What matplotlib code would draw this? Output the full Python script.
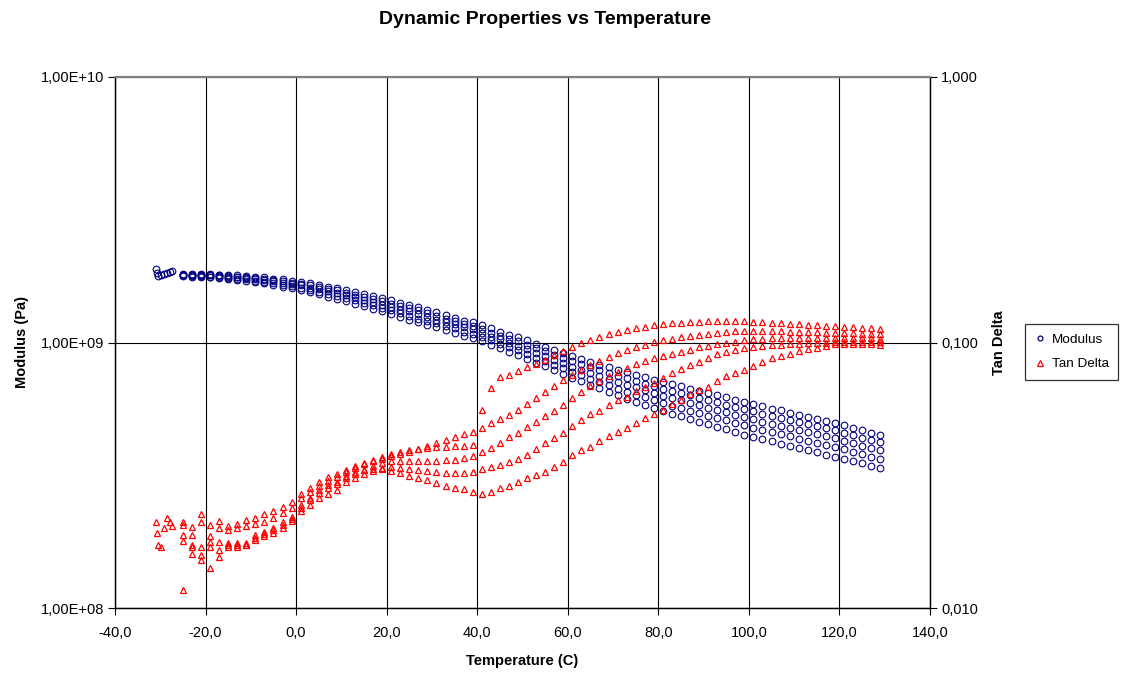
import matplotlib
matplotlib.use("Agg")
import matplotlib.pyplot as plt
import matplotlib.ticker as ticker
from matplotlib.lines import Line2D

plt.rcParams["font.family"] = ["Liberation Sans", "DejaVu Sans"]

# temperature steps (C), shared by the five frequency sweeps
temperature = [-25, -23, -21, -19, -17, -15, -13, -11, -9, -7, -5, -3, -1,
               1, 3, 5, 7, 9, 11, 13, 15, 17, 19, 21, 23, 25, 27, 29, 31, 33,
               35, 37, 39, 41, 43, 45, 47, 49, 51, 53, 55, 57, 59, 61, 63, 65,
               67, 69, 71, 73, 75, 77, 79, 81, 83, 85, 87, 89, 91, 93, 95, 97,
               99, 101, 103, 105, 107, 109, 111, 113, 115, 117, 119, 121, 123,
               125, 127, 129]

# a few points logged before the ramp settled
early_temperature = [-30.9, -30.7, -30.5, -29.8, -29.2, -28.5, -27.9, -27.4]
early_modulus_gpa = [1.89, 1.83, 1.78, 1.80, 1.81, 1.83, 1.84, 1.86]
early_tan_delta = [0.0210, 0.0192, 0.0172, 0.0169, 0.0200, 0.0219, 0.0211, 0.0204]

# storage modulus (GPa), one list per sweep
modulus_gpa_1 = [1.81, 1.81, 1.81, 1.81, 1.80, 1.80, 1.79, 1.78, 1.77, 1.76,
                 1.74, 1.73, 1.71, 1.69, 1.67, 1.65, 1.62, 1.60, 1.58, 1.55,
                 1.52, 1.50, 1.47, 1.44, 1.41, 1.39, 1.36, 1.33, 1.30, 1.27,
                 1.24, 1.21, 1.19, 1.16, 1.13, 1.10, 1.07, 1.05, 1.02, 0.990,
                 0.962, 0.936, 0.911, 0.887, 0.866, 0.845, 0.825, 0.806, 0.788, 0.771,
                 0.755, 0.739, 0.724, 0.710, 0.697, 0.684, 0.671, 0.658, 0.645, 0.633,
                 0.621, 0.609, 0.598, 0.587, 0.575, 0.564, 0.555, 0.544, 0.534, 0.525,
                 0.516, 0.507, 0.498, 0.489, 0.478, 0.467, 0.457, 0.449]
modulus_gpa_2 = [1.80, 1.80, 1.80, 1.80, 1.79, 1.78, 1.77, 1.76, 1.75, 1.74,
                 1.72, 1.70, 1.68, 1.66, 1.64, 1.62, 1.59, 1.57, 1.54, 1.51,
                 1.48, 1.46, 1.43, 1.40, 1.37, 1.35, 1.32, 1.29, 1.26, 1.23,
                 1.20, 1.17, 1.15, 1.12, 1.09, 1.06, 1.03, 1.01, 0.982, 0.953,
                 0.925, 0.899, 0.874, 0.850, 0.828, 0.807, 0.787, 0.767, 0.749, 0.732,
                 0.716, 0.700, 0.684, 0.671, 0.658, 0.645, 0.632, 0.620, 0.607, 0.595,
                 0.584, 0.572, 0.561, 0.551, 0.539, 0.529, 0.520, 0.510, 0.501, 0.492,
                 0.484, 0.475, 0.467, 0.458, 0.448, 0.438, 0.429, 0.421]
modulus_gpa_3 = [1.80, 1.79, 1.79, 1.79, 1.78, 1.77, 1.76, 1.75, 1.73, 1.72,
                 1.70, 1.68, 1.66, 1.64, 1.61, 1.59, 1.56, 1.53, 1.51, 1.48,
                 1.45, 1.42, 1.39, 1.36, 1.33, 1.31, 1.28, 1.25, 1.22, 1.19,
                 1.17, 1.14, 1.12, 1.09, 1.05, 1.03, 0.997, 0.973, 0.944, 0.915,
                 0.888, 0.862, 0.837, 0.812, 0.790, 0.769, 0.749, 0.728, 0.710, 0.693,
                 0.677, 0.660, 0.645, 0.631, 0.618, 0.606, 0.593, 0.581, 0.569, 0.558,
                 0.546, 0.535, 0.524, 0.514, 0.504, 0.494, 0.486, 0.477, 0.468, 0.459,
                 0.451, 0.443, 0.435, 0.427, 0.418, 0.409, 0.401, 0.393]
modulus_gpa_4 = [1.79, 1.78, 1.78, 1.77, 1.76, 1.75, 1.74, 1.73, 1.71, 1.69,
                 1.67, 1.65, 1.63, 1.61, 1.58, 1.55, 1.52, 1.50, 1.47, 1.44,
                 1.41, 1.38, 1.35, 1.32, 1.29, 1.26, 1.23, 1.20, 1.18, 1.15,
                 1.13, 1.10, 1.08, 1.05, 1.02, 0.988, 0.960, 0.935, 0.906, 0.878,
                 0.850, 0.824, 0.800, 0.775, 0.752, 0.731, 0.710, 0.689, 0.671, 0.653,
                 0.637, 0.621, 0.605, 0.592, 0.579, 0.566, 0.554, 0.543, 0.530, 0.520,
                 0.509, 0.498, 0.487, 0.478, 0.468, 0.459, 0.451, 0.443, 0.434, 0.426,
                 0.419, 0.410, 0.404, 0.396, 0.388, 0.380, 0.372, 0.365]
modulus_gpa_5 = [1.78, 1.77, 1.77, 1.76, 1.75, 1.73, 1.72, 1.71, 1.69, 1.67,
                 1.65, 1.62, 1.60, 1.58, 1.55, 1.52, 1.49, 1.46, 1.43, 1.40,
                 1.37, 1.34, 1.31, 1.28, 1.25, 1.22, 1.19, 1.16, 1.14, 1.11,
                 1.09, 1.06, 1.04, 1.01, 0.978, 0.950, 0.923, 0.896, 0.868, 0.840,
                 0.813, 0.787, 0.763, 0.737, 0.714, 0.693, 0.672, 0.650, 0.632, 0.614,
                 0.598, 0.581, 0.565, 0.552, 0.539, 0.527, 0.515, 0.504, 0.492, 0.482,
                 0.471, 0.461, 0.450, 0.441, 0.432, 0.424, 0.416, 0.409, 0.401, 0.393,
                 0.386, 0.378, 0.372, 0.365, 0.358, 0.351, 0.344, 0.337]

# tan delta, one list per sweep
tan_delta_1 = [0.0210, 0.0202, 0.0225, 0.0206, 0.0213, 0.0204, 0.0208, 0.0215, 0.0219, 0.0225,
               0.0231, 0.0241, 0.0251, 0.0269, 0.0284, 0.0299, 0.0312, 0.0321, 0.0332, 0.0343,
               0.0353, 0.0362, 0.0371, 0.0381, 0.0388, 0.0394, 0.0398, 0.0401, 0.0405, 0.0405,
               0.0408, 0.0408, 0.0412, 0.0558, 0.0675, 0.0742, 0.0755, 0.0782, 0.0810, 0.0831,
               0.0860, 0.0898, 0.0930, 0.0962, 0.0997, 0.1023, 0.1050, 0.1077, 0.1096, 0.1115,
               0.1135, 0.1145, 0.1165, 0.1175, 0.1185, 0.1185, 0.1195, 0.1195, 0.1205, 0.1205,
               0.1205, 0.1205, 0.1205, 0.1195, 0.1195, 0.1185, 0.1185, 0.1175, 0.1175, 0.1165,
               0.1165, 0.1155, 0.1155, 0.1145, 0.1145, 0.1135, 0.1135, 0.1125]
tan_delta_2 = [0.0206, 0.0189, 0.0210, 0.0186, 0.0200, 0.0197, 0.0200, 0.0204, 0.0208, 0.0211,
               0.0219, 0.0227, 0.0239, 0.0260, 0.0274, 0.0289, 0.0301, 0.0312, 0.0326, 0.0338,
               0.0350, 0.0359, 0.0365, 0.0375, 0.0381, 0.0388, 0.0398, 0.0408, 0.0419, 0.0430,
               0.0441, 0.0453, 0.0461, 0.0477, 0.0498, 0.0516, 0.0534, 0.0558, 0.0587, 0.0619,
               0.0652, 0.0687, 0.0723, 0.0755, 0.0789, 0.0824, 0.0853, 0.0883, 0.0914, 0.0938,
               0.0962, 0.0979, 0.1005, 0.1023, 0.1032, 0.1050, 0.1059, 0.1068, 0.1077, 0.1086,
               0.1096, 0.1105, 0.1105, 0.1105, 0.1105, 0.1105, 0.1105, 0.1096, 0.1096, 0.1096,
               0.1096, 0.1086, 0.1086, 0.1086, 0.1086, 0.1077, 0.1077, 0.1077]
tan_delta_3 = [0.0179, 0.0170, 0.0169, 0.0169, 0.0178, 0.0176, 0.0173, 0.0176, 0.0189, 0.0194,
               0.0200, 0.0211, 0.0221, 0.0239, 0.0256, 0.0272, 0.0284, 0.0294, 0.0310, 0.0321,
               0.0332, 0.0343, 0.0353, 0.0359, 0.0359, 0.0359, 0.0359, 0.0359, 0.0359, 0.0362,
               0.0362, 0.0368, 0.0375, 0.0388, 0.0401, 0.0419, 0.0441, 0.0457, 0.0482, 0.0503,
               0.0529, 0.0553, 0.0582, 0.0619, 0.0652, 0.0687, 0.0717, 0.0749, 0.0775, 0.0803,
               0.0831, 0.0853, 0.0875, 0.0890, 0.0906, 0.0922, 0.0938, 0.0962, 0.0971, 0.0988,
               0.0997, 0.1005, 0.1023, 0.1032, 0.1032, 0.1041, 0.1041, 0.1041, 0.1041, 0.1041,
               0.1041, 0.1041, 0.1041, 0.1041, 0.1041, 0.1041, 0.1041, 0.1032]
tan_delta_4 = [0.0189, 0.0160, 0.0159, 0.0142, 0.0156, 0.0169, 0.0170, 0.0172, 0.0181, 0.0186,
               0.0192, 0.0200, 0.0213, 0.0231, 0.0245, 0.0260, 0.0269, 0.0279, 0.0299, 0.0310,
               0.0321, 0.0329, 0.0338, 0.0340, 0.0338, 0.0335, 0.0332, 0.0329, 0.0326, 0.0323,
               0.0323, 0.0323, 0.0326, 0.0335, 0.0340, 0.0346, 0.0356, 0.0365, 0.0378, 0.0398,
               0.0419, 0.0437, 0.0457, 0.0486, 0.0511, 0.0539, 0.0553, 0.0582, 0.0608, 0.0624,
               0.0657, 0.0681, 0.0704, 0.0736, 0.0769, 0.0796, 0.0824, 0.0845, 0.0875, 0.0906,
               0.0922, 0.0938, 0.0954, 0.0962, 0.0971, 0.0979, 0.0979, 0.0988, 0.0988, 0.0997,
               0.0997, 0.0997, 0.1005, 0.1005, 0.1005, 0.1005, 0.1005, 0.1005]
tan_delta_5 = [0.0117, 0.0173, 0.0152, 0.0178, 0.0166, 0.0172, 0.0176, 0.0173, 0.0184, 0.0190,
               0.0197, 0.0206, 0.0217, 0.0245, 0.0260, 0.0279, 0.0291, 0.0299, 0.0315, 0.0326,
               0.0332, 0.0335, 0.0335, 0.0329, 0.0323, 0.0315, 0.0310, 0.0304, 0.0296, 0.0289,
               0.0284, 0.0281, 0.0274, 0.0269, 0.0274, 0.0284, 0.0289, 0.0299, 0.0310, 0.0318,
               0.0326, 0.0340, 0.0356, 0.0378, 0.0394, 0.0405, 0.0426, 0.0445, 0.0461, 0.0477,
               0.0498, 0.0520, 0.0539, 0.0558, 0.0587, 0.0608, 0.0641, 0.0663, 0.0681, 0.0717,
               0.0749, 0.0769, 0.0789, 0.0817, 0.0845, 0.0875, 0.0890, 0.0906, 0.0930, 0.0946,
               0.0954, 0.0971, 0.0988, 0.0988, 0.0988, 0.0988, 0.0988, 0.0979]

x_ticks = [-40, -20, 0, 20, 40, 60, 80, 100, 120, 140]
modulus_ticks = [1e8, 1e9, 1e10]
tan_ticks = [0.01, 0.1, 1.0]

MOD_COLOR = "#000080"
TAN_COLOR = "#ff0000"
FS = 10.5

mod_style = dict(linestyle="none", marker="o", markersize=4.8, markerfacecolor="none",
                 markeredgecolor=MOD_COLOR, markeredgewidth=0.8)
tan_style = dict(linestyle="none", marker="^", markersize=5.0, markerfacecolor="none",
                 markeredgecolor=TAN_COLOR, markeredgewidth=0.9)

fig = plt.figure(figsize=(11.22, 6.73), dpi=100)
ax = fig.add_axes([115 / 1122, 65 / 673, 815 / 1122, 531 / 673])
ax2 = ax.twinx()

ax.plot(early_temperature, [v * 1e9 for v in early_modulus_gpa], **mod_style)
for m in [modulus_gpa_1, modulus_gpa_2, modulus_gpa_3, modulus_gpa_4, modulus_gpa_5]:
    ax.plot(temperature, [v * 1e9 for v in m], **mod_style)

ax2.plot(early_temperature, early_tan_delta, **tan_style)
for t in [tan_delta_1, tan_delta_2, tan_delta_3, tan_delta_4, tan_delta_5]:
    ax2.plot(temperature, t, **tan_style)

ax.set_xlim(-40, 140)
ax.set_yscale("log")
ax.set_ylim(1e8, 1e10)
ax2.set_yscale("log")
ax2.set_ylim(0.01, 1.0)

ax.set_xticks(x_ticks)
ax.xaxis.set_major_formatter(ticker.FuncFormatter(lambda v, p: f"{v:.1f}".replace(".", ",")))
ax.yaxis.set_major_locator(ticker.FixedLocator(modulus_ticks))
ax.yaxis.set_minor_locator(ticker.NullLocator())
ax.yaxis.set_major_formatter(ticker.FuncFormatter(lambda v, p: f"{v:.2E}".replace(".", ",")))
ax2.yaxis.set_major_locator(ticker.FixedLocator(tan_ticks))
ax2.yaxis.set_minor_locator(ticker.NullLocator())
ax2.yaxis.set_major_formatter(ticker.FuncFormatter(lambda v, p: f"{v:.3f}".replace(".", ",")))

for a in [ax, ax2]:
    a.tick_params(direction="out", length=5, width=0.8, color="black",
                  labelsize=FS, pad=3)
    for side in ["left", "right", "bottom"]:
        a.spines[side].set_color("black")
        a.spines[side].set_linewidth(0.9)
    a.spines["top"].set_color("#808080")
    a.spines["top"].set_linewidth(1.5)
ax.tick_params(axis="x", pad=8)

ax.grid(True, which="major", color="black", linewidth=0.8)
ax.set_axisbelow(True)

ax.set_xlabel("Temperature (C)", fontsize=FS, fontweight="bold", labelpad=10)
ax.set_ylabel("Modulus (Pa)", fontsize=FS, fontweight="bold", labelpad=8)
ax2.set_ylabel("Tan Delta", fontsize=FS, fontweight="bold", labelpad=10)

fig.text(545 / 1122, 1 - 20 / 673, "Dynamic Properties vs Temperature",
         ha="center", va="center", fontsize=14, fontweight="bold")

handles = [
    Line2D([], [], linestyle="none", marker="o", markersize=3.5, markerfacecolor="none",
           markeredgecolor=MOD_COLOR, markeredgewidth=0.9),
    Line2D([], [], linestyle="none", marker="^", markersize=3.8, markerfacecolor="none",
           markeredgecolor=TAN_COLOR, markeredgewidth=0.9),
]
leg = fig.legend(handles, ["Modulus", "Tan Delta"], loc="center left",
                 bbox_to_anchor=(1025 / 1122, 1 - 352 / 673), fontsize=FS - 0.8,
                 frameon=True, fancybox=False, edgecolor="black", handlelength=0.8,
                 handletextpad=0.5, borderpad=0.7, labelspacing=0.9, borderaxespad=0)
leg.get_frame().set_linewidth(0.9)

fig.savefig("out.png", dpi=100)
